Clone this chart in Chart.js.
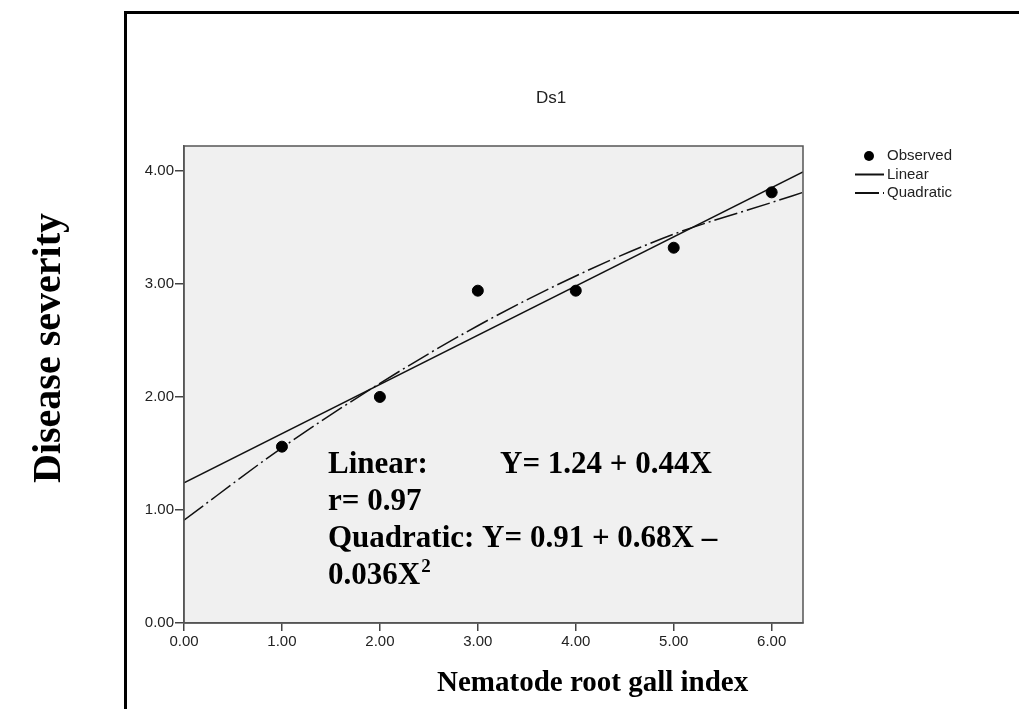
<!DOCTYPE html>
<html>
<head>
<meta charset="utf-8">
<script src="https://cdn.jsdelivr.net/npm/chart.js@4/dist/chart.umd.min.js"></script>
<style>
  html, body { margin: 0; padding: 0; background: #fff; }
  #wrap { position: relative; width: 1019px; height: 709px; }
</style>
</head>
<body>
<div id="wrap"><canvas id="myChart" width="1019" height="709"></canvas></div>
<script>
'use strict'
// observed points
let gallIndex = [1, 2, 3, 4, 5, 6];
let severity = [1.56, 2.00, 2.94, 2.94, 3.32, 3.81];

// fitted lines
let linearX = [0, 6.32];
let linearY = [1.24, 3.99];
let quadX = [0, 1, 2, 3, 4, 5, 6, 6.32];
let quadY = [0.91, 1.55, 2.12, 2.63, 3.07, 3.44, 3.72, 3.81];

let xTicks = [0, 1, 2, 3, 4, 5, 6];
let yTicks = [0, 1, 2, 3, 4];

let seriesNames = ['Observed', 'Linear', 'Quadratic'];
let chartTitle = 'Ds1';
let xTitle = 'Nematode root gall index';
let yTitle = 'Disease severity';
let noteLines = ['Linear:', 'Y= 1.24 + 0.44X', 'r= 0.97', 'Quadratic: Y= 0.91 + 0.68X \u2013', '0.036X', '2'];

const SERIF = '"Liberation Serif", "Times New Roman", serif';
const SANS = '"Liberation Sans", Arial, sans-serif';

function toPoints(xs, ys) {
  return xs.map((x, i) => ({ x: x, y: ys[i] }));
}

// background, frame, texts and legend
let pagePlugin = {
  id: 'page',
  beforeDraw(chart) {
    let ctx = chart.ctx;
    let a = chart.chartArea;
    ctx.save();
    ctx.fillStyle = '#f0f0f0';
    ctx.fillRect(a.left, a.top, a.right - a.left, a.bottom - a.top);
    ctx.restore();
  },
  afterDatasetsDraw(chart) {
    let ctx = chart.ctx;
    let a = chart.chartArea;
    ctx.save();
    ctx.strokeStyle = '#555';
    ctx.lineWidth = 1.5;
    ctx.strokeRect(a.left, a.top, a.right - a.left, a.bottom - a.top);
    ctx.restore();
  },
  afterDraw(chart) {
    let ctx = chart.ctx;
    ctx.save();

    // outer frame
    ctx.strokeStyle = '#000';
    ctx.lineWidth = 3;
    ctx.beginPath();
    ctx.moveTo(125.5, 709);
    ctx.lineTo(125.5, 12.5);
    ctx.lineTo(1019, 12.5);
    ctx.stroke();

    // chart title
    ctx.fillStyle = '#222';
    ctx.font = '17px ' + SANS;
    ctx.textAlign = 'center';
    ctx.textBaseline = 'middle';
    ctx.fillText(chartTitle, 551, 98);

    // axis titles
    ctx.fillStyle = '#000';
    ctx.font = 'bold 29px ' + SERIF;
    ctx.textAlign = 'left';
    ctx.textBaseline = 'alphabetic';
    ctx.fillText(xTitle, 437, 691);

    ctx.save();
    ctx.font = 'bold 40px ' + SERIF;
    ctx.translate(60, 348);
    ctx.rotate(-Math.PI / 2);
    ctx.textAlign = 'center';
    ctx.fillText(yTitle, 0, 0);
    ctx.restore();

    // equations
    ctx.font = 'bold 31px ' + SERIF;
    ctx.fillText(noteLines[0], 328, 473);
    ctx.fillText(noteLines[1], 500, 473);
    ctx.fillText(noteLines[2], 328, 510);
    ctx.fillText(noteLines[3], 328, 547);
    ctx.fillText(noteLines[4], 328, 584);
    let w = ctx.measureText(noteLines[4]).width;
    ctx.font = 'bold 19px ' + SERIF;
    ctx.fillText(noteLines[5], 328 + w + 1, 572);

    // legend
    ctx.font = '15px ' + SANS;
    ctx.textBaseline = 'middle';
    chart.data.datasets.forEach((ds, i) => {
      let y = 156 + i * 18.5;
      ctx.fillStyle = '#222';
      ctx.fillText(ds.label, 887, y);
      if (ds.showLine) {
        ctx.strokeStyle = ds.borderColor;
        ctx.lineWidth = 2;
        ctx.setLineDash(ds.borderDash || []);
        ctx.beginPath();
        ctx.moveTo(855, y);
        ctx.lineTo(884, y);
        ctx.stroke();
        ctx.setLineDash([]);
      } else {
        ctx.fillStyle = ds.backgroundColor;
        ctx.beginPath();
        ctx.arc(869, y, 5, 0, Math.PI * 2);
        ctx.fill();
      }
    });
    ctx.restore();
  }
};

let ctx = document.getElementById('myChart').getContext('2d');

let chart = new Chart(ctx, {
  type: 'scatter',
  data: {
    datasets: [
      {
        label: seriesNames[0],
        data: toPoints(gallIndex, severity),
        backgroundColor: '#000',
        borderColor: '#000',
        pointRadius: 5.5,
        showLine: false
      },
      {
        label: seriesNames[1],
        data: toPoints(linearX, linearY),
        borderColor: '#111',
        borderWidth: 1.5,
        pointRadius: 0,
        showLine: true
      },
      {
        label: seriesNames[2],
        data: toPoints(quadX, quadY),
        borderColor: '#111',
        borderWidth: 1.5,
        borderDash: [24, 4, 2, 4],
        pointRadius: 0,
        showLine: true,
        cubicInterpolationMode: 'monotone'
      }
    ]
  },
  plugins: [pagePlugin],
  options: {
    responsive: false,
    animation: false,
    devicePixelRatio: 1,
    layout: { padding: { top: 146, right: 216, left: 0, bottom: 0 } },
    plugins: {
      legend: { display: false },
      title: { display: false },
      tooltip: { enabled: false }
    },
    scales: {
      x: {
        type: 'linear',
        min: 0,
        max: 6.32,
        afterBuildTicks: s => { s.ticks = xTicks.map(v => ({ value: v })); },
        afterFit: s => { s.height = 86; },
        ticks: {
          color: '#222',
          font: { family: SANS, size: 15 },
          padding: 2,
          maxRotation: 0,
          callback: v => Number(v).toFixed(2)
        },
        grid: { display: true, drawOnChartArea: false, drawTicks: true, tickLength: 8, color: '#444', lineWidth: 1.5 },
        border: { display: true, color: '#555', width: 1.5 }
      },
      y: {
        type: 'linear',
        min: 0,
        max: 4.22,
        afterBuildTicks: s => { s.ticks = yTicks.map(v => ({ value: v })); },
        afterFit: s => { s.width = 184; },
        ticks: {
          color: '#222',
          font: { family: SANS, size: 15 },
          padding: 1,
          callback: v => Number(v).toFixed(2)
        },
        grid: { display: true, drawOnChartArea: false, drawTicks: true, tickLength: 9, color: '#444', lineWidth: 1.5 },
        border: { display: true, color: '#555', width: 1.5 }
      }
    }
  }
});
</script>
</body>
</html>
